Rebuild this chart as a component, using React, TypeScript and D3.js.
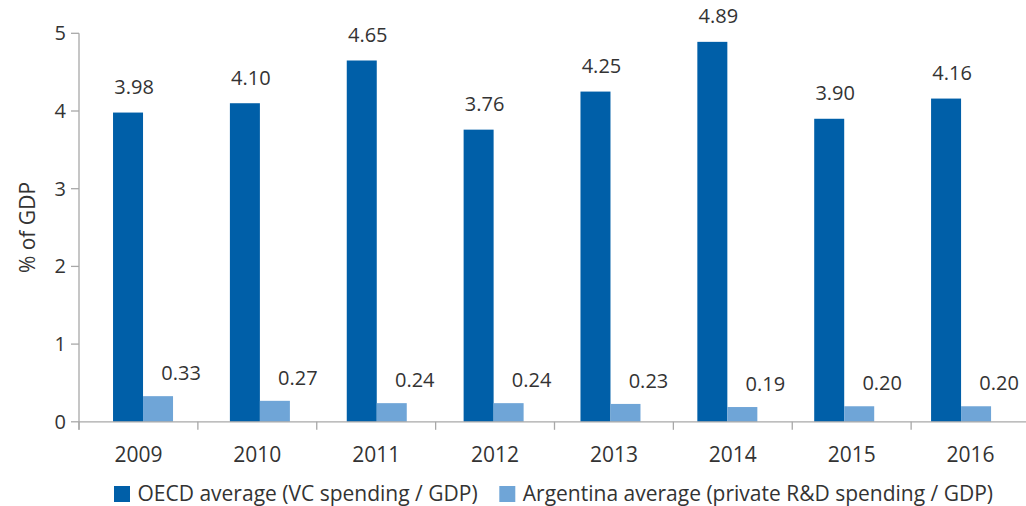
import React from "react";
import { scaleBand, scaleLinear } from "d3";

const years = ["2009", "2010", "2011", "2012", "2013", "2014", "2015", "2016"];
const oecd = [3.98, 4.1, 4.65, 3.76, 4.25, 4.89, 3.9, 4.16];
const argentina = [0.33, 0.27, 0.24, 0.24, 0.23, 0.19, 0.2, 0.2];
const yTicks = [0, 1, 2, 3, 4, 5];
const seriesNames = [
  "OECD average (VC spending / GDP)",
  "Argentina average (private R&D spending / GDP)",
];

const W = 1026;
const H = 506;
const FONT = "'Open Sans', 'Noto Sans', sans-serif";
const TEXT = "#333333";
const AXIS = "#a8a8a8";
const DARK = "#005fa8";
const LIGHT = "#6fa5d7";

const App = () => {
  // axis bands (ticks at boundaries, labels centered)
  const x = scaleBand().domain(years).range([79, 1030]);
  // bars sit on a slightly tighter step than the axis
  const xBars = scaleBand().domain(years).range([84.6, 1019.5]);
  const barW = 30;
  const y = scaleLinear().domain([0, 5]).range([421.8, 33.3]);

  const groupLeft = (yr: string) => xBars(yr)! + (xBars.bandwidth() - barW * 2) / 2;

  return (
    <svg
      width={W}
      height={H}
      style={{ position: "absolute", left: 0, top: 0, background: "#fff" }}
      fontFamily={FONT}
    >
      {/* y axis */}
      <line x1={79} x2={79} y1={y(5)} y2={y(0) + 8} stroke={AXIS} strokeWidth={1.3} />
      {yTicks.map((t) => (
        <g key={t} transform={`translate(0,${y(t)})`}>
          <line x1={71} x2={79} stroke={AXIS} strokeWidth={1.3} />
          <text x={66} dy="0.35em" textAnchor="end" fontSize={20} fill={TEXT}>
            {t}
          </text>
        </g>
      ))}
      <text
        transform={`translate(28,${(y(0) + y(5)) / 2}) rotate(-90)`}
        textAnchor="middle"
        dy="0.35em"
        fontSize={21}
        fill={TEXT}
      >
        % of GDP
      </text>

      {/* bars */}
      {years.map((yr, i) => {
        const gx = groupLeft(yr);
        return (
          <g key={yr}>
            <rect x={gx} y={y(oecd[i])} width={barW} height={y(0) - y(oecd[i])} fill={DARK} />
            <rect
              x={gx + barW}
              y={y(argentina[i])}
              width={barW}
              height={y(0) - y(argentina[i])}
              fill={LIGHT}
            />
            <text
              x={gx + barW / 2 + 6}
              y={y(oecd[i]) - 18.5}
              textAnchor="middle"
              fontSize={20}
              fill={TEXT}
            >
              {oecd[i].toFixed(2)}
            </text>
            <text
              x={gx + barW * 1.5 + 23}
              y={y(argentina[i]) - 16}
              textAnchor="middle"
              fontSize={20}
              fill={TEXT}
            >
              {argentina[i].toFixed(2)}
            </text>
          </g>
        );
      })}

      {/* x axis */}
      <line x1={79} x2={W} y1={y(0)} y2={y(0)} stroke={AXIS} strokeWidth={1.3} />
      {years.map((yr) => (
        <g key={yr}>
          <line x1={x(yr)} x2={x(yr)} y1={y(0)} y2={y(0) + 8} stroke={AXIS} strokeWidth={1.3} />
          <text
            x={x(yr)! + x.bandwidth() / 2}
            y={462}
            textAnchor="middle"
            fontSize={21}
            fill={TEXT}
          >
            {yr}
          </text>
        </g>
      ))}

      {/* legend */}
      {seriesNames.map((name, i) => {
        const lx = i === 0 ? 114 : 499.3;
        return (
          <g key={name} transform={`translate(${lx},486)`}>
            <rect width={16} height={16} fill={i === 0 ? DARK : LIGHT} />
            <text x={23.5} y={14.5} fontSize={21} fill={TEXT}>
              {name}
            </text>
          </g>
        );
      })}
    </svg>
  );
};

export default App;
